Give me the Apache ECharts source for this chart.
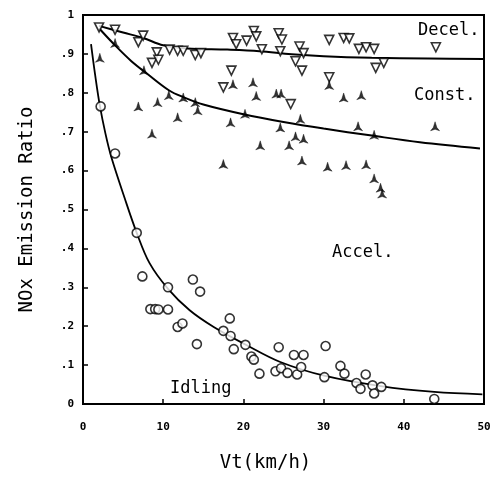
<!DOCTYPE html>
<html><head><meta charset="utf-8">
<script src="https://cdn.jsdelivr.net/npm/echarts@6/dist/echarts.min.js"></script>
<style>html,body{margin:0;padding:0;background:#fff}#c{width:496px;height:478px}</style>
</head><body><div id="c"></div>
<script>
// Data: [Vt (km/h), NOx emission ratio]
const decel = [[2.0,0.968],[4.0,0.962],[6.9,0.930],[7.5,0.947],[9.2,0.904],[8.6,0.877],[9.4,0.885],[10.8,0.911],[11.8,0.908],[12.5,0.908],[14.0,0.897],[14.7,0.902],[17.5,0.814],[18.5,0.857],[18.7,0.941],[19.1,0.925],[20.4,0.934],[21.3,0.959],[21.6,0.945],[22.3,0.912],[24.4,0.953],[24.8,0.937],[24.6,0.907],[25.9,0.771],[26.5,0.881],[27.0,0.919],[27.3,0.857],[27.5,0.902],[30.7,0.936],[30.7,0.840],[32.5,0.941],[33.2,0.940],[34.4,0.913],[35.3,0.917],[36.3,0.913],[36.5,0.864],[37.5,0.877],[44.0,0.917]];
const accel = [[2.1,0.890],[4.0,0.928],[7.6,0.858],[6.9,0.765],[9.3,0.776],[8.6,0.695],[10.7,0.794],[11.8,0.737],[12.5,0.788],[14.0,0.776],[14.3,0.755],[17.5,0.617],[18.4,0.724],[18.7,0.822],[20.2,0.746],[21.2,0.827],[21.6,0.792],[22.1,0.665],[24.1,0.798],[24.7,0.798],[24.6,0.711],[25.7,0.665],[26.5,0.688],[27.5,0.682],[27.1,0.733],[27.3,0.626],[30.5,0.610],[30.7,0.820],[32.5,0.788],[32.8,0.614],[34.7,0.794],[34.3,0.714],[35.3,0.616],[36.3,0.692],[36.3,0.580],[37.1,0.556],[37.3,0.541],[43.9,0.714]];
const idling = [[2.2,0.765],[4.0,0.644],[6.7,0.440],[7.4,0.328],[8.4,0.244],[9.0,0.244],[9.4,0.243],[10.6,0.243],[10.6,0.300],[11.8,0.198],[12.4,0.207],[13.7,0.320],[14.2,0.154],[14.6,0.289],[17.5,0.188],[18.3,0.220],[18.4,0.175],[18.8,0.141],[20.25,0.152],[21.0,0.122],[21.3,0.114],[22.0,0.078],[24.0,0.084],[24.4,0.146],[24.7,0.092],[25.5,0.080],[26.3,0.126],[26.7,0.076],[27.2,0.095],[27.5,0.126],[30.1,0.069],[30.25,0.149],[32.1,0.098],[32.6,0.078],[34.1,0.054],[34.6,0.039],[35.25,0.076],[36.1,0.048],[36.3,0.027],[37.2,0.044],[43.8,0.013]];
// Fitted curves, points
const decelCurve = [[2,0.972],[5,0.955],[7.5,0.941],[10,0.922],[13,0.914],[18,0.911],[22,0.907],[26,0.899],[30,0.894],[36,0.890],[43,0.888],[50,0.887]];
const constCurve = [[2,0.966],[4,0.922],[6,0.882],[8,0.849],[10.75,0.806],[12.5,0.789],[15,0.770],[20,0.745],[25,0.725],[30,0.708],[36,0.690],[42,0.673],[49.5,0.657]];
const idlingCurve = [[1.0,0.925],[1.5,0.848],[2.1,0.767],[2.8,0.695],[3.5,0.637],[5.2,0.529],[6.7,0.440],[8.3,0.362],[10.6,0.296],[13.3,0.241],[16.3,0.198],[20.25,0.153],[24.6,0.108],[30.2,0.072],[37.1,0.046],[43.8,0.031],[49.8,0.025]];
const yTickLabels = ['0','.1','.2','.3','.4','.5','.6','.7','.8','.9','1'];
const xTickLabels = ['0','10','20','30','40','50'];
const curveLabels = ['Decel.','Const.','Accel.','Idling'];

const mono = '"DejaVu Sans Mono", "Liberation Mono", monospace';
const chart = echarts.init(document.getElementById('c'), null, {renderer:'canvas'});
const accelSymbol = 'path://M5,0 L7,6.5 L10,10 L5,8.3 L0,10 L3,6.5 Z';
const curveStyle = {type:'line',smooth:0.35,showSymbol:false,z:2};
chart.setOption({
  animation:false,
  backgroundColor:'#fff',
  grid:{left:83,right:12,top:15,bottom:70,show:true,borderColor:'#000',borderWidth:2,backgroundColor:'transparent'},
  xAxis:{type:'value',min:0,max:50,interval:10,
    name:'Vt(km/h)',nameLocation:'middle',nameGap:50,
    nameTextStyle:{fontFamily:mono,fontSize:19,color:'#000',padding:[0,36,0,0]},
    axisLine:{lineStyle:{color:'#000',width:2}},
    axisTick:{inside:true,length:5,lineStyle:{color:'#000',width:1.5}},
    splitLine:{show:false},
    axisLabel:{margin:18,fontFamily:mono,fontWeight:'bold',fontSize:11,color:'#000',
      formatter:v=>xTickLabels[Math.round(v/10)]}},
  yAxis:{type:'value',min:0,max:1,interval:0.1,
    name:'NOx Emission Ratio',nameLocation:'middle',nameGap:46,
    nameTextStyle:{fontFamily:mono,fontSize:19,color:'#000'},
    axisLine:{lineStyle:{color:'#000',width:2}},
    axisTick:{inside:true,length:5,lineStyle:{color:'#000',width:1.5}},
    splitLine:{show:false},
    axisLabel:{margin:9,fontFamily:mono,fontWeight:'bold',fontSize:11,color:'#000',
      formatter:v=>yTickLabels[Math.round(v*10)]}},
  graphic:[
    {type:'text',left:418,top:22,style:{text:curveLabels[0],font:'17px '+mono,fill:'#000'}},
    {type:'text',left:414,top:87,style:{text:curveLabels[1],font:'17px '+mono,fill:'#000'}},
    {type:'text',left:332,top:244,style:{text:curveLabels[2],font:'17px '+mono,fill:'#000'}},
    {type:'text',left:170,top:380,style:{text:curveLabels[3],font:'17px '+mono,fill:'#000'}}
  ],
  series:[
    Object.assign({data:decelCurve,lineStyle:{color:'#000',width:2}},curveStyle),
    Object.assign({data:constCurve,lineStyle:{color:'#000',width:2}},curveStyle),
    Object.assign({data:idlingCurve,lineStyle:{color:'#000',width:1.8}},curveStyle),
    {type:'scatter',data:decel,symbol:'triangle',symbolRotate:180,symbolSize:9,
      itemStyle:{color:'#fff',borderColor:'#000',borderWidth:1.6},z:3},
    {type:'scatter',data:accel,symbol:accelSymbol,symbolSize:[9,9],
      itemStyle:{color:'#000',borderColor:'#000',borderWidth:0.5},z:3},
    {type:'scatter',data:idling,symbol:'circle',symbolSize:9,
      itemStyle:{color:'#fff',borderColor:'#000',borderWidth:1.6},z:3}
  ]
});
</script></body></html>
